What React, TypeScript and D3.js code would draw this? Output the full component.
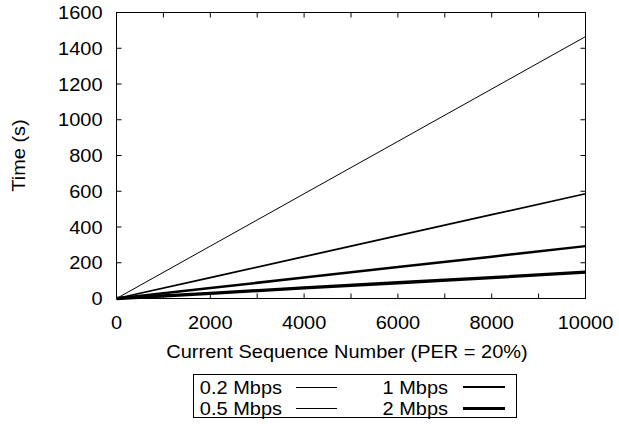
import React, { useEffect, useRef } from 'react';
import * as d3 from 'd3';

// sequence numbers sampled along the x axis
const seqNums = [0, 2000, 4000, 6000, 8000, 10000];

// time (s) per rate
const time02 = [0, 293, 586, 879, 1172, 1465];
const time05 = [0, 117, 234, 352, 469, 586];
const time1 = [0, 59, 117, 176, 234, 293];
const time2 = [0, 29, 59, 88, 117, 147];

const seriesNames = ['0.2 Mbps', '0.5 Mbps', '1 Mbps', '2 Mbps'];
const seriesValues = [time02, time05, time1, time2];
const plotWidths = [1, 1.7, 2.5, 3.3];
const keyWidths = [1, 1, 2, 3];

const xTicks = [0, 1000, 2000, 3000, 4000, 5000, 6000, 7000, 8000, 9000, 10000];
const xLabels = [0, 2000, 4000, 6000, 8000, 10000];
const yTicks = [0, 200, 400, 600, 800, 1000, 1200, 1400, 1600];

const App: React.FC = () => {
  const svgRef = useRef<SVGSVGElement>(null);

  useEffect(() => {
    if (!svgRef.current) return;
    const svg = d3.select(svgRef.current);
    svg.selectAll('*').remove();

    const left = 116.5, right = 585.5, top = 12.5, bottom = 298.5;
    const font = 'Liberation Sans, Arial, sans-serif';
    const fs = 18.5;
    const sx = 1.08; // glyphs in the reference are a bit wider than tall

    const x = d3.scaleLinear().domain([0, 10000]).range([left, right]);
    const y = d3.scaleLinear().domain([0, 1600]).range([bottom, top]);

    const g = svg.append('g');

    const label = (tx: number, ty: number, s: string, anchor: string, rot = 0) =>
      g.append('text')
        .attr('transform', `translate(${tx},${ty}) rotate(${rot}) scale(${sx},1)`)
        .attr('text-anchor', anchor)
        .style('font-family', font)
        .style('font-size', fs + 'px')
        .text(s);

    // lines
    const line = d3.line<number>()
      .x((_, i) => x(seqNums[i]))
      .y(d => y(d));

    seriesValues.forEach((vals, i) => {
      g.append('path')
        .datum(vals)
        .attr('d', line)
        .attr('fill', 'none')
        .attr('stroke', '#000')
        .attr('stroke-width', plotWidths[i]);
    });

    // ticks, inward and mirrored
    const tl = 5;
    xTicks.forEach(t => {
      g.append('line').attr('x1', x(t)).attr('x2', x(t)).attr('y1', bottom).attr('y2', bottom - tl)
        .attr('stroke', '#000');
      g.append('line').attr('x1', x(t)).attr('x2', x(t)).attr('y1', top).attr('y2', top + tl)
        .attr('stroke', '#000');
    });
    yTicks.forEach(t => {
      g.append('line').attr('x1', left).attr('x2', left + tl).attr('y1', y(t)).attr('y2', y(t))
        .attr('stroke', '#000');
      g.append('line').attr('x1', right).attr('x2', right - tl).attr('y1', y(t)).attr('y2', y(t))
        .attr('stroke', '#000');
    });

    // frame
    g.append('rect')
      .attr('x', left).attr('y', top)
      .attr('width', right - left).attr('height', bottom - top)
      .attr('fill', 'none').attr('stroke', '#000').attr('stroke-width', 1);

    // tick labels
    xLabels.forEach(t => label(x(t), bottom + 30, String(t), 'middle'));
    yTicks.forEach(t => label(left - 14, y(t) + 6.5, String(t), 'end'));

    // axis titles
    label(25, (top + bottom) / 2, 'Time (s)', 'middle', -90);
    label(347, bottom + 59, 'Current Sequence Number (PER = 20%)', 'middle');

    // legend
    const lg = g.append('g');
    lg.append('rect')
      .attr('x', 193.5).attr('y', 374.5).attr('width', 323).attr('height', 43)
      .attr('fill', 'none').attr('stroke', '#000').attr('stroke-width', 1);

    const cols = [
      { textEnd: 282, x1: 296, x2: 337 },
      { textEnd: 448, x1: 463, x2: 505 },
    ];
    const rows = [387, 408];
    seriesNames.forEach((name, i) => {
      const c = cols[Math.floor(i / 2)];
      const ry = rows[i % 2];
      const ly = keyWidths[i] % 2 === 1 ? ry + 0.5 : ry;
      label(c.textEnd, ry + 6.5, name, 'end');
      lg.append('line')
        .attr('x1', c.x1).attr('x2', c.x2).attr('y1', ly).attr('y2', ly)
        .attr('stroke', '#000').attr('stroke-width', keyWidths[i]);
    });
  }, []);

  return (
    <svg
      ref={svgRef}
      width={619}
      height={424}
      style={{ position: 'absolute', left: 0, top: 0, background: '#fff' }}
    />
  );
};

export default App;
